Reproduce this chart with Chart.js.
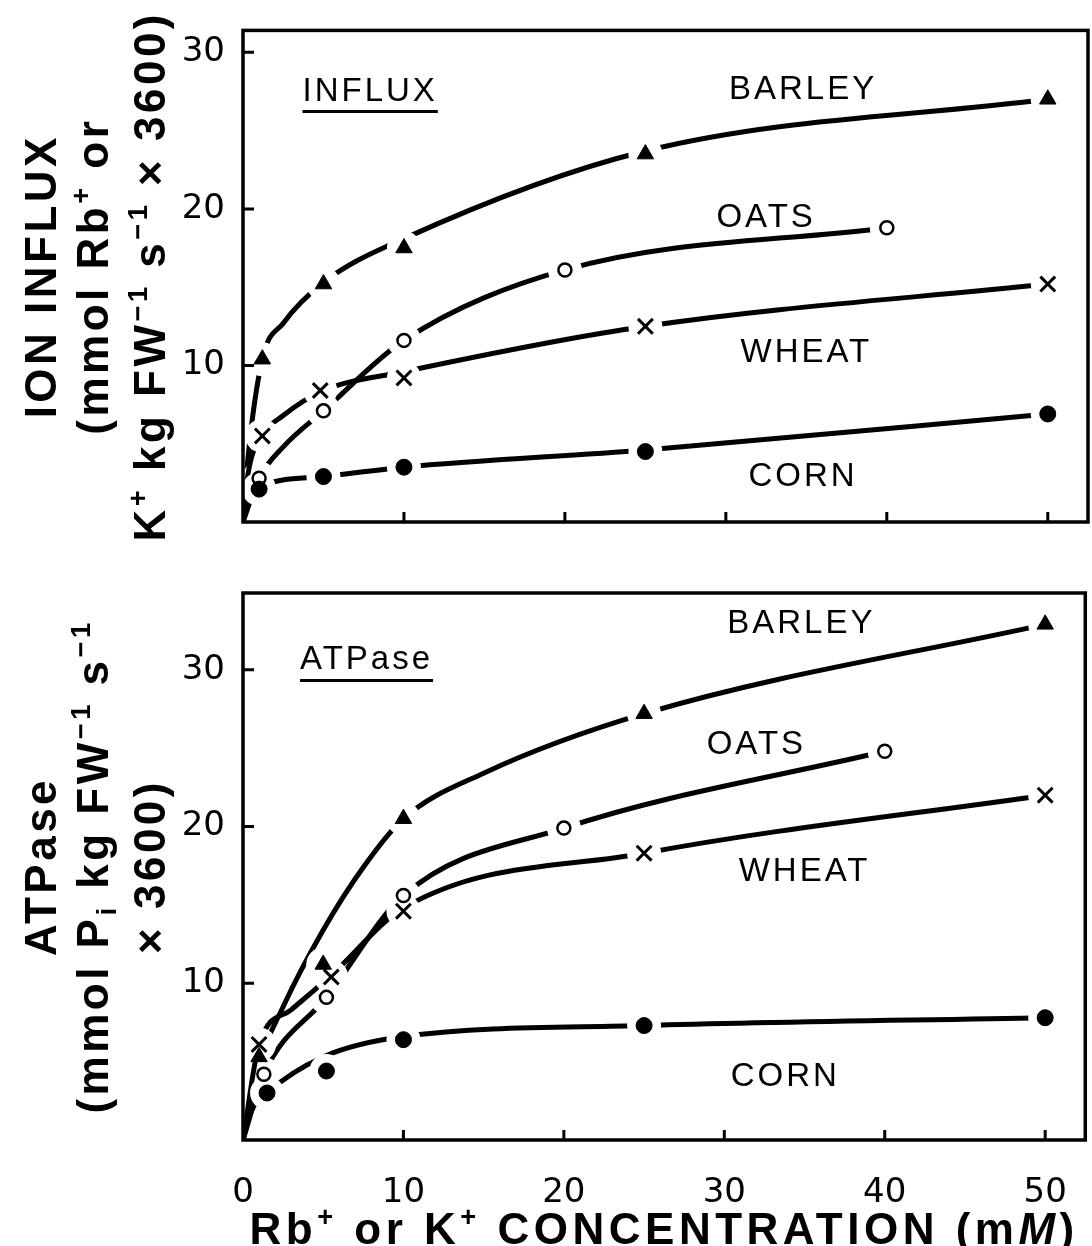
<!DOCTYPE html>
<html>
<head>
<meta charset="utf-8">
<title>Ion influx and ATPase vs concentration</title>
<script src="https://cdn.jsdelivr.net/npm/chart.js@4.4.1/dist/chart.umd.min.js"></script>
<style>
  html, body { margin: 0; padding: 0; background: #fff; }
  #wrap { position: relative; width: 1092px; height: 1246px; overflow: hidden; }
  .panel { position: absolute; left: 0; width: 1092px; }
  #influxBox { top: 0; height: 560px; }
  #atpaseBox { top: 560px; height: 686px; }
</style>
</head>
<body>
<div id="wrap">
  <div class="panel" id="influxBox"><canvas id="influxChart" width="1092" height="560"></canvas></div>
  <div class="panel" id="atpaseBox"><canvas id="atpaseChart" width="1092" height="686"></canvas></div>
</div>
<script>
// ---- values (x = Rb+ or K+ concentration, mM) ----
const xTickValues = [10, 20, 30, 40, 50];
const yTickValues = [10, 20, 30];

// ION INFLUX panel, measured points
const influxBarleyX = [1.2, 5, 10, 25, 50];
const influxBarleyY = [10.4, 15.2, 17.5, 23.5, 27.0];
const influxOatsX = [1, 5, 10, 20, 40];
const influxOatsY = [2.8, 7.1, 11.6, 16.1, 18.8];
const influxWheatX = [1.2, 4.8, 10, 25, 50];
const influxWheatY = [5.5, 8.4, 9.2, 12.5, 15.2];
const influxCornX = [1, 5, 10, 25, 50];
const influxCornY = [2.1, 2.9, 3.5, 4.5, 6.9];

// ION INFLUX panel, hand-drawn fitted curves
const influxBarleyCurveX = [0, 0.3, 1.2, 2.5, 5, 10, 25, 50];
const influxBarleyCurveY = [0, 4.0, 10.4, 12.7, 15.3, 18.1, 23.7, 27.0];
const influxOatsCurveX = [0, 1, 2.5, 5, 10, 20, 40];
const influxOatsCurveY = [0, 2.8, 4.8, 7.1, 11.6, 16.1, 18.8];
const influxWheatCurveX = [0, 0.3, 1.2, 2.5, 5, 10, 25, 50];
const influxWheatCurveY = [0, 3.0, 5.5, 6.8, 8.4, 9.6, 12.5, 15.2];
const influxCornCurveX = [0, 0.3, 1, 5, 10, 25, 50];
const influxCornCurveY = [0, 1.4, 2.2, 2.9, 3.5, 4.6, 6.9];

// ATPase panel, measured points
const atpaseBarleyX = [1, 5, 10, 25, 50];
const atpaseBarleyY = [5.3, 11.2, 20.5, 27.2, 32.9];
const atpaseOatsX = [1.3, 5.2, 10, 20, 40];
const atpaseOatsY = [4.2, 9.1, 15.6, 19.9, 24.8];
const atpaseWheatX = [1, 5.5, 10, 25, 50];
const atpaseWheatY = [6.1, 10.4, 14.6, 18.3, 22.0];
const atpaseCornX = [1.5, 5.2, 10, 25, 50];
const atpaseCornY = [3.0, 4.4, 6.4, 7.3, 7.8];

// ATPase panel, hand-drawn fitted curves
const atpaseBarleyCurveX = [0, 1, 2.5, 5, 7.5, 10, 15, 25, 50];
const atpaseBarleyCurveY = [0, 4.8, 8.5, 13.4, 17.4, 20.5, 23.4, 27.2, 32.9];
const atpaseOatsCurveX = [0, 1.3, 5.2, 10, 20, 40];
const atpaseOatsCurveY = [0, 4.2, 9.1, 15.6, 19.9, 24.8];
const atpaseWheatCurveX = [0, 1, 3, 5.5, 10, 25, 50];
const atpaseWheatCurveY = [0, 6.1, 8.3, 10.5, 14.8, 18.3, 22.0];
const atpaseCornCurveX = [0, 0.5, 1.5, 5, 10, 25, 50];
const atpaseCornCurveY = [0, 1.8, 3.0, 5.3, 6.6, 7.3, 7.8];

const FONT = "'Liberation Sans', Arial, sans-serif";
const TICK_FONT = "'DejaVu Sans', sans-serif";

const markerStyles = {
    BARLEY: { pointStyle: 'triangle', radius: 9.5, bg: '#000', border: 1 },
    OATS: { pointStyle: 'circle', radius: 6.5, bg: '#fff', border: 2.5 },
    WHEAT: { pointStyle: 'crossRot', radius: 10.5, bg: '#000', border: 3 },
    CORN: { pointStyle: 'circle', radius: 8, bg: '#000', border: 1 }
};

function pts(xs, ys) {
    return xs.map((x, i) => ({ x: x, y: ys[i] }));
}

// per crop: fitted curve then a white gap round its points; all markers last, on top
function buildDatasets(series) {
    const out = [];
    let order = 100;
    series.forEach(s => {
        out.push({
            label: s.name + ' curve', data: pts(s.curveX, s.curveY),
            borderColor: '#000', borderWidth: 5, borderCapStyle: 'round',
            pointRadius: 0, cubicInterpolationMode: 'monotone', fill: false, order: order--
        });
        out.push({
            label: s.name + ' gap', data: pts(s.x, s.y), showLine: false,
            pointStyle: 'circle', pointRadius: 17, pointBackgroundColor: '#fff',
            pointBorderWidth: 0, order: order--
        });
    });
    series.forEach(s => {
        const st = markerStyles[s.name];
        out.push({
            label: s.name, data: pts(s.x, s.y), showLine: false,
            pointStyle: st.pointStyle, pointRadius: st.radius,
            pointBackgroundColor: st.bg, pointBorderColor: '#000',
            pointBorderWidth: st.border, order: order--
        });
    });
    return out;
}

// tiny markup: ^{..} superscript, _{..} subscript, *{..} italic
function parseRich(str) {
    const segs = [];
    const re = /([\^_*])\{([^}]*)\}|([^\^_*]+)/g;
    let m;
    while ((m = re.exec(str))) {
        if (m[3]) segs.push({ t: m[3], k: 'n' });
        else segs.push({ t: m[2], k: m[1] === '^' ? 'sup' : (m[1] === '_' ? 'sub' : 'it') });
    }
    return segs;
}

function drawRich(ctx, str, cx, cy, size, spacing, vertical) {
    const segs = parseRich(str);
    const fontFor = k => {
        const sz = (k === 'sup' || k === 'sub') ? size * 0.62 : size;
        return (k === 'it' ? 'italic ' : '') + 'bold ' + sz + 'px ' + FONT;
    };
    ctx.save();
    if ('letterSpacing' in ctx) ctx.letterSpacing = spacing + 'px';
    let total = 0;
    segs.forEach(s => {
        ctx.font = fontFor(s.k);
        s.w = ctx.measureText(s.t).width;
        total += s.w;
    });
    ctx.translate(cx, cy);
    if (vertical) ctx.rotate(-Math.PI / 2);
    ctx.fillStyle = '#000';
    ctx.textBaseline = 'alphabetic';
    ctx.textAlign = 'left';
    let x = -total / 2;
    const base = size * 0.36;
    segs.forEach(s => {
        ctx.font = fontFor(s.k);
        let dy = 0;
        if (s.k === 'sup') dy = -size * 0.4;
        if (s.k === 'sub') dy = size * 0.18;
        ctx.fillText(s.t, x, base + dy);
        x += s.w;
    });
    ctx.restore();
}

const figurePlugin = {
    id: 'figure',
    afterDatasetsDraw(chart, args, opts) {
        const ctx = chart.ctx;
        const area = chart.chartArea;
        const xs = chart.scales.x;
        const ys = chart.scales.y;
        ctx.save();
        ctx.strokeStyle = '#000';
        ctx.lineWidth = 3.5;
        ctx.strokeRect(area.left, area.top, area.right - area.left, area.bottom - area.top);
        ctx.lineWidth = 3;
        ctx.beginPath();
        yTickValues.forEach(v => {
            const py = ys.getPixelForValue(v);
            ctx.moveTo(area.left, py);
            ctx.lineTo(area.left + 11, py);
        });
        xTickValues.forEach(v => {
            const px = xs.getPixelForValue(v);
            ctx.moveTo(px, area.bottom);
            ctx.lineTo(px, area.bottom - 10);
        });
        ctx.stroke();

        // curve names and panel name inside the plot
        ctx.fillStyle = '#000';
        ctx.textAlign = 'center';
        ctx.textBaseline = 'middle';
        ctx.font = '33px ' + FONT;
        if ('letterSpacing' in ctx) ctx.letterSpacing = '3px';
        opts.labels.forEach(l => {
            const px = xs.getPixelForValue(l.x);
            const py = ys.getPixelForValue(l.y);
            ctx.fillText(l.text, px, py);
            if (l.underline) {
                const w = ctx.measureText(l.text).width;
                ctx.lineWidth = 3;
                ctx.beginPath();
                ctx.moveTo(px - w / 2, py + 20);
                ctx.lineTo(px + w / 2, py + 20);
                ctx.stroke();
            }
        });
        if ('letterSpacing' in ctx) ctx.letterSpacing = '0px';
        ctx.restore();
    },
    afterDraw(chart, args, opts) {
        const ctx = chart.ctx;
        const area = chart.chartArea;
        const midY = (area.top + area.bottom) / 2;
        opts.yTitle.forEach((line, i) => {
            drawRich(ctx, line, opts.yTitleCols[i], midY, 44, 3.5, true);
        });
        if (opts.xTitle) {
            drawRich(ctx, opts.xTitle, (area.left + area.right) / 2, opts.xTitleY, 44, 4.5, false);
        }
    }
};

function makeChart(canvasId, cfg) {
    return new Chart(document.getElementById(canvasId), {
        type: 'line',
        data: { datasets: buildDatasets(cfg.series) },
        plugins: [figurePlugin],
        options: {
            responsive: false,
            animation: false,
            events: [],
            devicePixelRatio: 1,
            layout: { autoPadding: false, padding: { top: cfg.padTop, right: 4, left: 0, bottom: 0 } },
            plugins: {
                legend: { display: false },
                tooltip: { enabled: false },
                figure: { labels: cfg.labels, yTitle: cfg.yTitle, yTitleCols: [40, 92, 149], xTitle: cfg.xTitle, xTitleY: cfg.xTitleY }
            },
            scales: {
                x: {
                    type: 'linear', min: 0, max: 52.5,
                    grid: { display: false }, border: { display: false },
                    ticks: {
                        display: cfg.showX, stepSize: 10, includeBounds: false, padding: 25,
                        color: '#000', font: { family: TICK_FONT, size: 34 }
                    },
                    afterFit: s => { s.height = cfg.xHeight; }
                },
                y: {
                    min: 0, max: cfg.yMax,
                    grid: { display: false }, border: { display: false },
                    ticks: {
                        stepSize: 10, includeBounds: false, padding: 10,
                        color: '#000', font: { family: TICK_FONT, size: 34 },
                        callback: v => (v === 0 ? '' : v)
                    },
                    afterFit: s => { s.width = 243; }
                }
            }
        }
    });
}

makeChart('influxChart', {
    padTop: 26, xHeight: 38, yMax: 31.4, showX: false,
    series: [
        { name: 'BARLEY', x: influxBarleyX, y: influxBarleyY, curveX: influxBarleyCurveX, curveY: influxBarleyCurveY },
        { name: 'OATS', x: influxOatsX, y: influxOatsY, curveX: influxOatsCurveX, curveY: influxOatsCurveY },
        { name: 'WHEAT', x: influxWheatX, y: influxWheatY, curveX: influxWheatCurveX, curveY: influxWheatCurveY },
        { name: 'CORN', x: influxCornX, y: influxCornY, curveX: influxCornCurveX, curveY: influxCornCurveY }
    ],
    labels: [
        { text: 'INFLUX', x: 7.9, y: 27.5, underline: true },
        { text: 'BARLEY', x: 34.8, y: 27.6 },
        { text: 'OATS', x: 32.5, y: 19.4 },
        { text: 'WHEAT', x: 35, y: 10.8 },
        { text: 'CORN', x: 34.8, y: 2.9 }
    ],
    yTitle: ['ION INFLUX', '(mmol Rb^{+} or', 'K^{+} kg FW^{\u22121} s^{\u22121} \u00d7 3600)']
});

makeChart('atpaseChart', {
    padTop: 33, xHeight: 106, yMax: 34.9, showX: true,
    series: [
        { name: 'BARLEY', x: atpaseBarleyX, y: atpaseBarleyY, curveX: atpaseBarleyCurveX, curveY: atpaseBarleyCurveY },
        { name: 'OATS', x: atpaseOatsX, y: atpaseOatsY, curveX: atpaseOatsCurveX, curveY: atpaseOatsCurveY },
        { name: 'WHEAT', x: atpaseWheatX, y: atpaseWheatY, curveX: atpaseWheatCurveX, curveY: atpaseWheatCurveY },
        { name: 'CORN', x: atpaseCornX, y: atpaseCornY, curveX: atpaseCornCurveX, curveY: atpaseCornCurveY }
    ],
    labels: [
        { text: 'ATPase', x: 7.7, y: 30.6, underline: true },
        { text: 'BARLEY', x: 34.8, y: 32.9 },
        { text: 'OATS', x: 32.0, y: 25.2 },
        { text: 'WHEAT', x: 35, y: 17.1 },
        { text: 'CORN', x: 33.8, y: 4.0 }
    ],
    yTitle: ['ATPase', '(mmol P_{i} kg FW^{\u22121} s^{\u22121}', '\u00d7 3600)'],
    xTitle: 'Rb^{+} or K^{+} CONCENTRATION (m*{M})',
    xTitleY: 668
});
</script>
</body>
</html>
